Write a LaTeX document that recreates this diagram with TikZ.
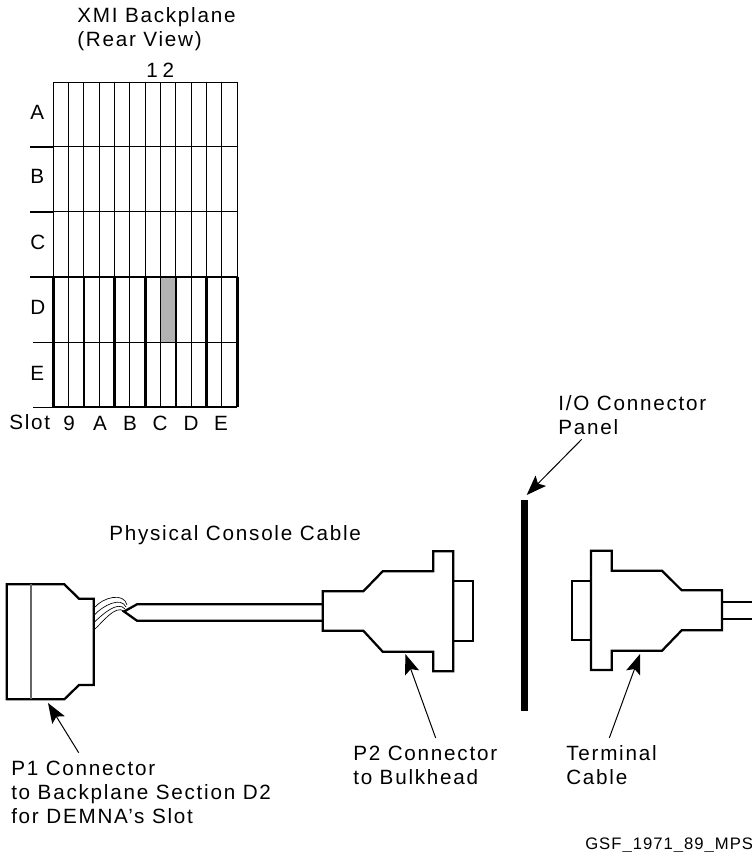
\documentclass[tikz,border=0pt]{standalone}
\usepackage{fontspec}
\usetikzlibrary{arrows.meta}
\setmainfont[LetterSpace=8.5]{Liberation Sans}
\newfontfamily\gsffont[LetterSpace=6]{Liberation Sans}
\begin{document}
\begin{tikzpicture}[
        x=0.75pt, y=-0.75pt,
        font=\fontsize{15.5pt}{18pt}\selectfont,
        label/.style={inner sep=0pt, anchor=west, align=left},
        gridthin/.style={draw=black, line width=0.75pt},
        gridthick/.style={draw=black, line width=2.1pt},
        outline/.style={draw=black, line width=1.7pt, line join=miter},
        wire/.style={draw=black, line width=0.5pt},
        pointer/.style={draw=black, line width=0.75pt, -{Stealth[length=15pt, width=11pt, inset=3pt]}},
    ]
    \useasboundingbox (0,0) rectangle (752,852);

    % ==========================================
    % BACKPLANE
    % ==========================================
    \node[label] (title) at (77,29) {XMI Backplane\\(Rear View)};
    \node[label] (sect) at (146,70) {1 \kern-2pt 2};

    \fill[black!30] (160.7,277) rectangle (176,342);
    \foreach \i in {0,...,12} {
        \draw[gridthin] ({53.3+15.33*\i},82.5) -- ({53.3+15.33*\i},407);
    }
    \foreach \yy in {82.5,147,212,277,342,407} {
        \draw[gridthin] (53.3,\yy) -- (237,\yy);
    }
    \foreach \i in {0,2,...,12} {
        \draw[gridthick] ({53.3+15.33*\i},277) -- ({53.3+15.33*\i},407);
    }
    \draw[gridthick] (30,277) -- (237,277);
    \draw[gridthick] (53.3,407) -- (237,407);
    \draw[gridthick] (30,147) -- (53.3,147);
    \draw[gridthick] (30,212) -- (53.3,212);
    \draw[gridthin] (33,342) -- (53.3,342);
    \draw[gridthin] (33,407) -- (53.3,407);

    % row letters
    \node[label] (rowA) at (30,112) {A};
    \node[label] (rowB) at (30,176) {B};
    \node[label] (rowC) at (30,242) {C};
    \node[label] (rowD) at (30,307) {D};
    \node[label] (rowE) at (30,373) {E};

    % slot letters
    \node[label] (slot) at (9,422) {Slot};
    \node[anchor=center, inner sep=0pt] (slot9) at (69,423) {9};
    \node[anchor=center, inner sep=0pt] (slotA) at (100,423) {A};
    \node[anchor=center, inner sep=0pt] (slotB) at (130,423) {B};
    \node[anchor=center, inner sep=0pt] (slotC) at (160,423) {C};
    \node[anchor=center, inner sep=0pt] (slotD) at (191,423) {D};
    \node[anchor=center, inner sep=0pt] (slotE) at (221,423) {E};

    % ==========================================
    % P1 CONNECTOR AND CABLE
    % ==========================================
    \draw[outline] (6.7,584.3) -- (64.3,584.3) -- (79,598.7) -- (93.7,598.7) -- (93.7,685) -- (79,685) -- (64.3,699.3) -- (6.7,699.3) -- cycle;
    \draw[draw=black!60, line width=1pt] (31,584.3) -- (31,699.3);

    \foreach \dy in {0,1,2,3} {
        \draw[wire] (94,{608+7.3*\dy}) .. controls (103,{597+8.3*\dy}) and ({124-3*\dy},{592+4.3*\dy}) .. ({127-\dy},{605+2*\dy});
    }

    \draw[outline] (323,604.3) -- (137,604.3) -- (124,611.5) -- (137,620.7) -- (323,620.7);

    % ==========================================
    % P2 CONNECTOR
    % ==========================================
    \draw[outline] (322.7,591.3) -- (363.3,591.3) -- (382.7,571.3) -- (433.3,571.3) -- (433.3,551.3) -- (453.3,551.3) -- (453.3,671.3) -- (433.3,671.3) -- (433.3,651.7) -- (382.7,651.7) -- (363.3,630.7) -- (322.7,630.7) -- cycle;
    \draw[outline] (453.3,581) -- (473.3,581) -- (473.3,641.3) -- (453.3,641.3);

    % panel
    \fill[black] (521,500) rectangle (527.7,710.7);

    % ==========================================
    % TERMINAL CONNECTOR
    % ==========================================
    \draw[outline] (722,590.3) -- (681.7,590.3) -- (662,570.7) -- (611.7,570.7) -- (611.7,550.7) -- (591,550.7) -- (591,670) -- (611.7,670) -- (611.7,650.7) -- (662,650.7) -- (681.7,630.3) -- (722,630.3) -- cycle;
    \draw[outline] (591,580.7) -- (571.7,580.7) -- (571.7,640.3) -- (591,640.3);
    \draw[outline] (722,602.3) -- (752,602.3);
    \draw[outline] (722,619.3) -- (752,619.3);

    % ==========================================
    % LABELS AND POINTERS
    % ==========================================
    \node[label] (cable) at (109,535) {Physical Console Cable};
    \node[label] (panel) at (558,415) {I/O Connector\\Panel};
    \node[label] (p1) at (11,792) {P1 Connector\\to Backplane Section D2\\for DEMNA\symbol{39}s Slot};
    \node[label] (p2) at (353,765) {P2 Connector\\to Bulkhead};
    \node[label] (term) at (566,765) {Terminal\\Cable};
    \node[label, font=\gsffont\fontsize{12.5pt}{15pt}\selectfont] (gsf) at (585,845) {GSF\_1971\_89\_MPS};

    \coordinate (p1tip) at (48,703);
    \coordinate (p2tip) at (405.3,654);
    \coordinate (termtip) at (640,654);
    \coordinate (paneltip) at (526.7,495);
    \coordinate (p1tail) at (78.7,752.7);
    \coordinate (p2tail) at (435.7,738);
    \coordinate (termtail) at (609.3,738);
    \coordinate (paneltail) at (581.7,439.3);

    \draw[pointer] (p1tail) -- (p1tip);
    \draw[pointer] (p2tail) -- (p2tip);
    \draw[pointer] (termtail) -- (termtip);
    \draw[pointer] (paneltail) -- (paneltip);
\end{tikzpicture}
\end{document}
